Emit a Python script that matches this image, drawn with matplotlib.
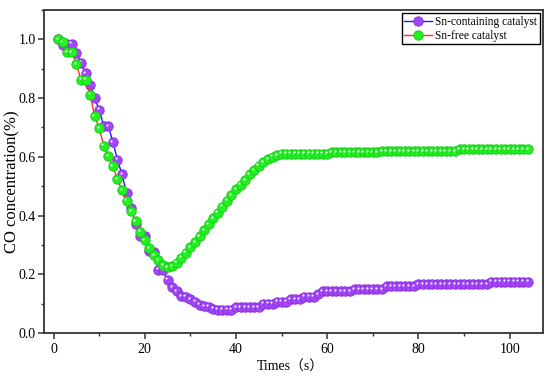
import matplotlib
matplotlib.use("Agg")
import matplotlib.pyplot as plt
from matplotlib.ticker import MultipleLocator, FormatStrFormatter
from matplotlib import transforms

# ---- data ----
t = list(range(1, 105))

sn_containing_head = [1.0, 0.98, 0.985, 0.985, 0.955, 0.92, 0.885, 0.845, 0.80, 0.76,
                      0.705, 0.705, 0.65, 0.59, 0.54, 0.477, 0.425, 0.37, 0.33, 0.33,
                      0.28, 0.275, 0.215, 0.213, 0.182, 0.157, 0.142, 0.125, 0.123, 0.115,
                      0.106, 0.097, 0.091, 0.089, 0.083]
sn_containing_tail = ([0.08] * 4 + [0.088] * 6 + [0.10] * 3 + [0.107] * 3 + [0.115] * 3 +
                      [0.123] * 3 + [0.133] + [0.142] * 7 + [0.15] * 7 + [0.16] * 7 +
                      [0.167] * 16 + [0.175] * 9)
sn_containing = sn_containing_head + sn_containing_tail

sn_free_head = [1.0, 0.99, 0.957, 0.957, 0.915, 0.863, 0.863, 0.812, 0.738, 0.698,
                0.638, 0.602, 0.568, 0.523, 0.486, 0.45, 0.415, 0.38, 0.345, 0.316,
                0.288, 0.265, 0.248, 0.231, 0.225, 0.227, 0.239, 0.257, 0.273, 0.293,
                0.31, 0.33, 0.35, 0.37, 0.39, 0.41, 0.43, 0.45, 0.47, 0.49,
                0.505, 0.52, 0.54, 0.555, 0.57, 0.582, 0.592, 0.60, 0.605, 0.61]
sn_free_tail = [0.61] * 10 + [0.615] * 11 + [0.62] * 17 + [0.625] * 16
sn_free = sn_free_head + sn_free_tail

labels = ["Sn-containing catalyst", "Sn-free catalyst"]

# ---- figure ----
fig = plt.figure(figsize=(5.5, 3.79), dpi=100)
ax = fig.add_axes([44 / 550, 1 - 333 / 379, (543 - 44) / 550, (333 - 10) / 379])

serif = ['Liberation Serif', 'Noto Sans CJK SC']

ms = 6.8
ax.plot(t, sn_containing, '-', color='#1a1aff', lw=1.0, marker='o', ms=ms,
        mfc='#a247f5', mec='#8a2be2', mew=0.6, label=labels[0], zorder=3)
ax.plot(t, sn_free, '-', color='#ff3030', lw=1.0, marker='o', ms=ms,
        mfc='#22f022', mec='#18c818', mew=0.6, label=labels[1], zorder=4)

# highlight dots for sphere look
off = transforms.offset_copy(ax.transData, fig=fig, x=-1.0, y=1.0, units='points')
ax.plot(t, sn_containing, 'o', ms=1.6, mfc='#f6eeff', mec='none', transform=off, zorder=3.5)
ax.plot(t, sn_free, 'o', ms=1.6, mfc='#eeffee', mec='none', transform=off, zorder=4.5)

ax.set_xlim(-2.1, 107.3)
ax.set_ylim(0.0, 1.1)
ax.xaxis.set_major_locator(MultipleLocator(20))
ax.xaxis.set_minor_locator(MultipleLocator(10))
ax.yaxis.set_major_locator(MultipleLocator(0.2))
ax.yaxis.set_minor_locator(MultipleLocator(0.1))
ax.yaxis.set_major_formatter(FormatStrFormatter('%.1f'))

for s in ax.spines.values():
    s.set_linewidth(1.3)
    s.set_color('#333333')

ax.tick_params(axis='both', which='major', direction='out', length=4, width=1.1,
               color='#333333', labelsize=10, top=False, right=False, pad=2)
ax.tick_params(axis='x', which='major', pad=3)
ax.tick_params(axis='both', which='minor', direction='out', length=2.5, width=1.0,
               color='#333333', top=False, right=False)
for lab in ax.get_xticklabels() + ax.get_yticklabels():
    lab.set_family(serif)

ax.set_xlabel('Times（s）', family=serif, fontsize=10)
ax.set_ylabel('CO concentration(%)', family=serif, fontsize=12)
ax.xaxis.set_label_coords((290 - 44) / 499, (333 - 360) / 323)
ax.yaxis.set_label_coords((20 - 44) / 499, (333 - 182) / 323)

leg = ax.legend(loc='upper right', prop={'family': serif, 'size': 8.3},
                frameon=True, fancybox=False, edgecolor='black', framealpha=1,
                borderpad=0.2, handlelength=2.4, handletextpad=0.3, labelspacing=0.2,
                borderaxespad=0.3, markerscale=1.0)
leg.get_frame().set_linewidth(1.0)

fig.savefig('out.png', dpi=100)
